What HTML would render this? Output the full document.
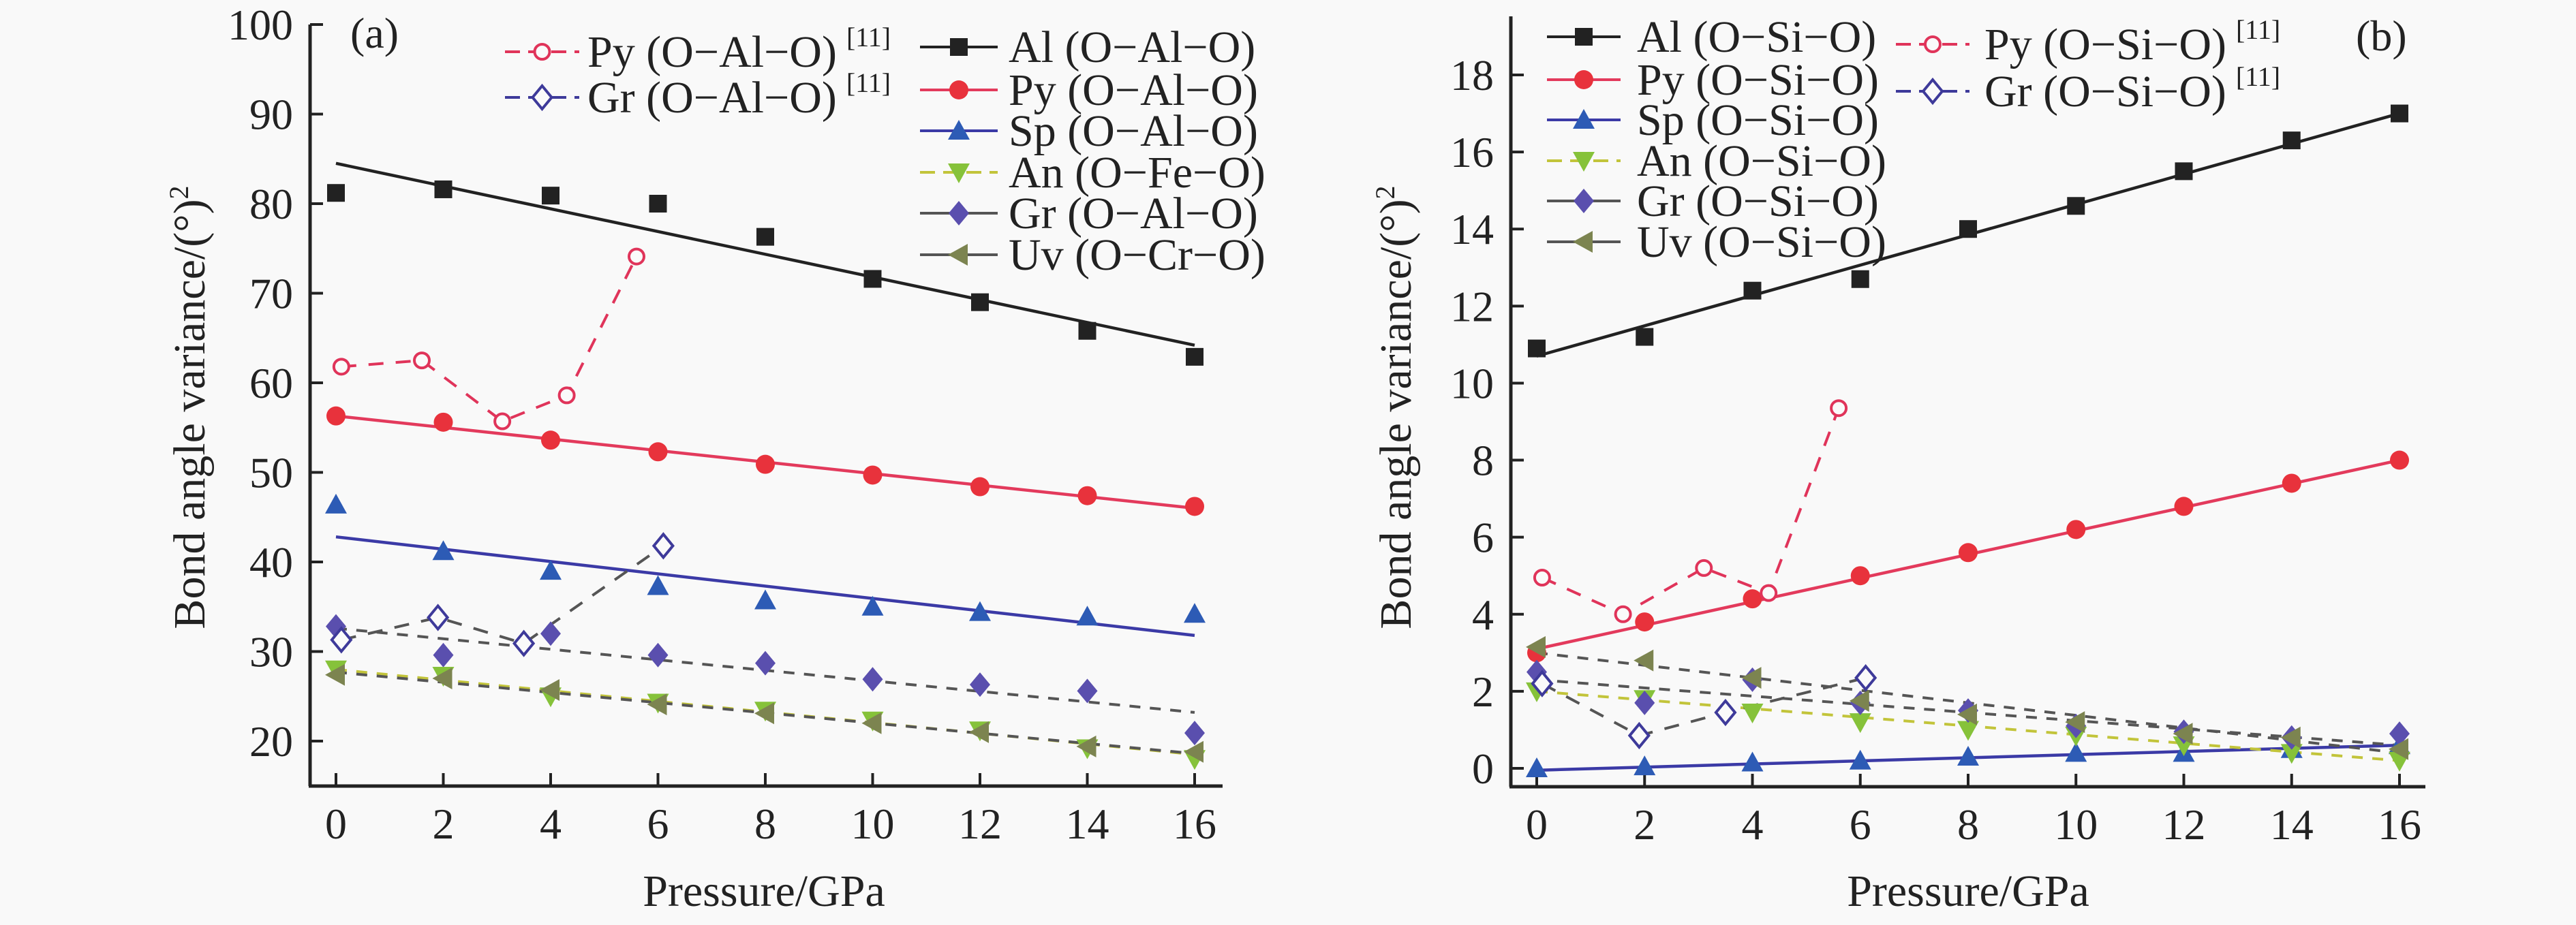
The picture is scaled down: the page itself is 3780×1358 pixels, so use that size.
<!DOCTYPE html>
<html><head><meta charset="utf-8">
<style>
html,body{margin:0;padding:0;background:#f9f9f9;}
svg{display:block;}
text{font-family:"Liberation Serif","DejaVu Serif",serif;}
</style></head>
<body>
<svg id="chart" width="3780" height="1358" viewBox="0 0 3780 1358" xmlns="http://www.w3.org/2000/svg" font-family="Liberation Serif, DejaVu Serif, serif">
<rect width="3780" height="1358" fill="#f9f9f9"/>
</svg>
<script>
const xTicks = [0,2,4,6,8,10,12,14,16];
const pressures = [0,2,4,6,8,10,12,14,16];
const yTicksA = [20,30,40,50,60,70,80,90,100];
const yTicksB = [0,2,4,6,8,10,12,14,16,18];
// Panel a values
const aAl = [81.2,81.6,80.9,80.0,76.3,71.6,69.0,65.8,62.9];
const aPy = [56.3,55.6,53.6,52.3,50.9,49.7,48.4,47.4,46.2];
const aSp = [46.4,41.2,39.0,37.3,35.7,35.0,34.4,33.9,34.2];
const aAn = [28.0,27.3,25.0,24.3,23.4,22.3,21.2,19.2,18.0];
const aGr = [32.8,29.6,32.0,29.6,28.7,26.9,26.3,25.6,20.9];
const aUv = [27.4,27.0,25.7,24.1,23.1,22.0,21.0,19.4,18.8];
const aPyRefX = [0.1,1.6,3.1,4.3,5.6];
const aPyRefY = [61.8,62.5,55.7,58.6,74.1];
const aGrRefX = [0.1,1.9,3.5,6.1];
const aGrRefY = [31.3,33.8,30.9,41.8];
// fit lines [value at 0, value at 16]
const aAlFit = [84.5,64.2];
const aPyFit = [56.3,46.0];
const aSpFit = [42.8,31.8];
const aAnFit = [28.0,18.5];
const aGrFit = [32.6,23.2];
const aUvFit = [27.7,18.6];
// Panel b values
const bAl = [10.9,11.2,12.4,12.7,14.0,14.6,15.5,16.3,17.0];
const bPy = [3.0,3.8,4.4,5.0,5.6,6.2,6.8,7.4,8.0];
const bSp = [0.0,0.05,0.15,0.2,0.3,0.4,0.4,0.5,0.6];
const bAn = [2.0,1.8,1.45,1.2,1.0,0.85,0.6,0.4,0.2];
const bGr = [2.5,1.7,2.3,1.7,1.5,1.1,0.95,0.8,0.9];
const bUv = [3.15,2.8,2.35,1.75,1.4,1.2,0.9,0.8,0.5];
const bPyRefX = [0.1,1.6,3.1,4.3,5.6];
const bPyRefY = [4.95,4.0,5.2,4.55,9.35];
const bGrRefX = [0.1,1.9,3.5,6.1];
const bGrRefY = [2.2,0.85,1.45,2.35];
const bAlFit = [10.7,17.0];
const bPyFit = [3.1,8.0];
const bSpFit = [-0.05,0.6];
const bAnFit = [2.0,0.2];
const bGrFit = [2.3,0.6];
const bUvFit = [3.0,0.4];

const NS="http://www.w3.org/2000/svg";
const svg=document.getElementById('chart');
const FONT='Liberation Serif, DejaVu Serif, serif';
function mk(tag,attrs,parent){const e=document.createElementNS(NS,tag);for(const k in attrs)e.setAttribute(k,attrs[k]);if(tag==='text')e.setAttribute('font-family',FONT);(parent||svg).appendChild(e);return e;}

const C={al:'#222222',py:'#e8323c',pyl:'#e33a5c',sp:'#2d5bb5',spl:'#3b3aa6',an:'#86c23a',anl:'#c2c43a',gr:'#5a4fae',uv:'#7c8450',dash:'#555555',pyr:'#e0345a',grr:'#3e3a9a'};

function marker(g,type,cx,cy,name){
  let e;
  const s=13;
  if(type==='square') e=mk('rect',{x:cx-s,y:cy-s,width:2*s,height:2*s,fill:C.al},g);
  else if(type==='circle') e=mk('circle',{cx:cx,cy:cy,r:14,fill:C.py},g);
  else if(type==='up') e=mk('polygon',{points:`${cx},${cy-16} ${cx-16},${cy+13} ${cx+16},${cy+13}`,fill:C.sp},g);
  else if(type==='down') e=mk('polygon',{points:`${cx},${cy+16} ${cx-16},${cy-13} ${cx+16},${cy-13}`,fill:C.an},g);
  else if(type==='diamond') e=mk('polygon',{points:`${cx},${cy-18} ${cx+15},${cy} ${cx},${cy+18} ${cx-15},${cy}`,fill:C.gr},g);
  else if(type==='left') e=mk('polygon',{points:`${cx-16},${cy} ${cx+13},${cy-16} ${cx+13},${cy+16}`,fill:C.uv},g);
  else if(type==='ocircle') e=mk('circle',{cx:cx,cy:cy,r:11,fill:'#fafafa',stroke:C.pyr,'stroke-width':4},g);
  else if(type==='odiamond') e=mk('polygon',{points:`${cx},${cy-17} ${cx+14},${cy} ${cx},${cy+17} ${cx-14},${cy}`,fill:'#fafafa',stroke:C.grr,'stroke-width':4},g);
  
  
  return e;
}

function panel(P){
  const g=mk('g',{});
  
  
  const X=v=>P.x0+(v-0)*(P.x16-P.x0)/16;
  const Y=v=>P.yA+(v-P.vA)*(P.yB-P.yA)/(P.vB-P.vA);
  const ya=mk('line',{x1:P.ax,y1:P.axTop,x2:P.ax,y2:P.ay,stroke:'#222','stroke-width':5},g);
  
  const xa=mk('line',{x1:P.ax-2,y1:P.ay,x2:P.axRight,y2:P.ay,stroke:'#222','stroke-width':5},g);
  
  xTicks.forEach(t=>{
    const l=mk('line',{x1:X(t),y1:P.ay,x2:X(t),y2:P.ay-19,stroke:'#222','stroke-width':4},g);
    
    const tx=mk('text',{x:X(t),y:P.ay+77,'font-size':64,'text-anchor':'middle',fill:'#222'},g);
    tx.textContent=t;
    
  });
  P.yTicks.forEach(t=>{
    const l=mk('line',{x1:P.ax,y1:Y(t),x2:P.ax+19,y2:Y(t),stroke:'#222','stroke-width':4},g);
    
    const tx=mk('text',{x:P.ax-25,y:Y(t)+22,'font-size':64,'text-anchor':'end',fill:'#222'},g);
    tx.textContent=t;
    
  });
  const xt=mk('text',{x:P.xtX,y:1330,'font-size':66,'text-anchor':'middle',fill:'#222'},g);
  xt.textContent='Pressure/GPa';
  const yt=mk('text',{x:0,y:0,'font-size':66,'text-anchor':'middle',fill:'#222',transform:`translate(${P.ytX},598) rotate(-90)`},g);
  yt.innerHTML='Bond angle variance/(°)<tspan font-size="40" dy="-24">2</tspan>';
  
  const pl=mk('text',{x:P.labX,y:P.labY,'font-size':64,fill:'#222'},g);
  pl.textContent=P.label;
  P.fits.forEach(f=>{
    const l=mk('line',{x1:X(0),y1:Y(f.v[0]),x2:X(16),y2:Y(f.v[1]),stroke:f.c,'stroke-width':f.dash?4:4.5},g);
    if(f.dash) l.setAttribute('stroke-dasharray','16 14');
    
  });
  P.refs.forEach(r=>{
    const pts=r.x.map((xv,i)=>X(xv)+','+Y(r.y[i])).join(' ');
    const l=mk('polyline',{points:pts,fill:'none',stroke:r.c,'stroke-width':4,'stroke-dasharray':'22 18'},g);
    
  });
  P.series.forEach(s=>{
    s.v.forEach((v,i)=>marker(g,s.m,X(pressures[i]),Y(v),s.n+'-point'));
  });
  P.refs.forEach(r=>{
    r.x.forEach((xv,i)=>marker(g,r.m,X(xv),Y(r.y[i]),r.n+'-point'));
  });
  P.legend.forEach(L=>{
    const lg=mk('g',{},g);
    
    const l=mk('line',{x1:L.x1,y1:L.y,x2:L.x2,y2:L.y,stroke:L.c,'stroke-width':4},lg);
    if(L.dash) l.setAttribute('stroke-dasharray','22 12');
    marker(lg,L.m,(L.x1+L.x2)/2,L.y,'legend-marker');
    const t=mk('text',{x:L.tx,y:L.y+22,'font-size':66,fill:'#222'},lg);
    t.innerHTML=L.t+(L.ref?'<tspan font-size="40" dx="14" dy="-30">[11]</tspan>':'');
    
  });
}

panel({id:'panel-a',x0:493,x16:1753,ax:455,ay:1154,axTop:36,axRight:1794,
  vA:20,yA:1088,vB:100,yB:36,yTicks:yTicksA,xtX:1121,ytX:300,label:'(a)',labX:514,labY:70,
  fits:[{v:aAlFit,c:C.al,n:'al'},{v:aPyFit,c:C.pyl,n:'py'},{v:aSpFit,c:C.spl,n:'sp'},
        {v:aGrFit,c:C.dash,n:'gr',dash:1},{v:aAnFit,c:C.anl,n:'an',dash:1},{v:aUvFit,c:C.dash,n:'uv',dash:1}],
  refs:[{x:aPyRefX,y:aPyRefY,c:C.pyr,m:'ocircle',n:'py-ref'},{x:aGrRefX,y:aGrRefY,c:C.dash,m:'odiamond',n:'gr-ref'}],
  series:[{v:aAl,m:'square',n:'al'},{v:aPy,m:'circle',n:'py'},{v:aSp,m:'up',n:'sp'},{v:aGr,m:'diamond',n:'gr'},{v:aAn,m:'down',n:'an'},{v:aUv,m:'left',n:'uv'}],
  legend:[
    {x1:741,x2:850,y:76,c:C.pyr,m:'ocircle',tx:862,t:'Py (O−Al−O)',ref:1,dash:1},
    {x1:741,x2:850,y:143,c:C.grr,m:'odiamond',tx:862,t:'Gr (O−Al−O)',ref:1,dash:1},
    {x1:1350,x2:1464,y:69,c:C.al,m:'square',tx:1480,t:'Al (O−Al−O)'},
    {x1:1350,x2:1464,y:132,c:C.pyl,m:'circle',tx:1480,t:'Py (O−Al−O)'},
    {x1:1350,x2:1464,y:192,c:C.spl,m:'up',tx:1480,t:'Sp (O−Al−O)'},
    {x1:1350,x2:1464,y:253,c:C.anl,m:'down',tx:1480,t:'An (O−Fe−O)',dash:1},
    {x1:1350,x2:1464,y:313,c:C.dash,m:'diamond',tx:1480,t:'Gr (O−Al−O)'},
    {x1:1350,x2:1464,y:374,c:C.dash,m:'left',tx:1480,t:'Uv (O−Cr−O)'}
  ]});

panel({id:'panel-b',x0:2255,x16:3521,ax:2217,ay:1155,axTop:24,axRight:3559,
  vA:0,yA:1128,vB:18,yB:110,yTicks:yTicksB,xtX:2888,ytX:2070,label:'(b)',labX:3457,labY:74,
  fits:[{v:bAlFit,c:C.al,n:'al'},{v:bPyFit,c:C.pyl,n:'py'},{v:bSpFit,c:C.spl,n:'sp'},
        {v:bAnFit,c:C.anl,n:'an',dash:1},{v:bGrFit,c:C.dash,n:'gr',dash:1},{v:bUvFit,c:C.dash,n:'uv',dash:1}],
  refs:[{x:bPyRefX,y:bPyRefY,c:C.pyr,m:'ocircle',n:'py-ref'},{x:bGrRefX,y:bGrRefY,c:C.dash,m:'odiamond',n:'gr-ref'}],
  series:[{v:bAl,m:'square',n:'al'},{v:bPy,m:'circle',n:'py'},{v:bSp,m:'up',n:'sp'},{v:bAn,m:'down',n:'an'},{v:bGr,m:'diamond',n:'gr'},{v:bUv,m:'left',n:'uv'}],
  legend:[
    {x1:2270,x2:2378,y:54,c:C.al,m:'square',tx:2402,t:'Al (O−Si−O)'},
    {x1:2270,x2:2378,y:117,c:C.pyl,m:'circle',tx:2402,t:'Py (O−Si−O)'},
    {x1:2270,x2:2378,y:176,c:C.spl,m:'up',tx:2402,t:'Sp (O−Si−O)'},
    {x1:2270,x2:2378,y:236,c:C.anl,m:'down',tx:2402,t:'An (O−Si−O)',dash:1},
    {x1:2270,x2:2378,y:295,c:C.dash,m:'diamond',tx:2402,t:'Gr (O−Si−O)'},
    {x1:2270,x2:2378,y:355,c:C.dash,m:'left',tx:2402,t:'Uv (O−Si−O)'},
    {x1:2782,x2:2890,y:65,c:C.pyr,m:'ocircle',tx:2912,t:'Py (O−Si−O)',ref:1,dash:1},
    {x1:2782,x2:2890,y:134,c:C.grr,m:'odiamond',tx:2912,t:'Gr (O−Si−O)',ref:1,dash:1}
  ]});
</script>
</body></html>
